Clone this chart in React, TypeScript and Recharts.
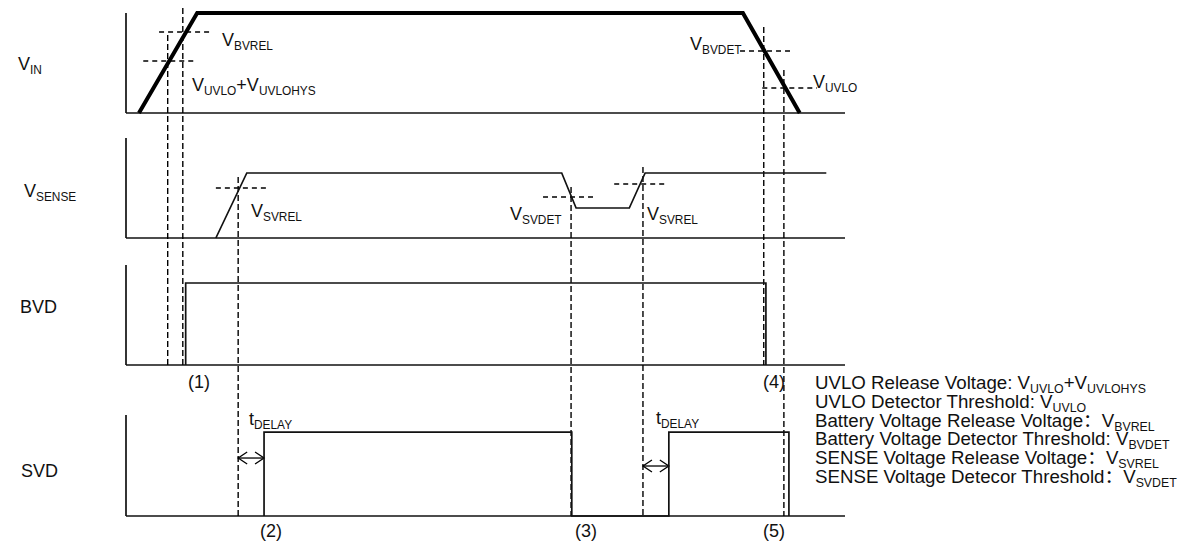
import React from 'react'
import { ComposedChart, Line, XAxis, YAxis, ReferenceLine } from 'recharts'

const W = 1182
const H = 543
const FONT = '"Liberation Sans", Arial, Helvetica, sans-serif'
const INK = '#111'

// time axis runs 0..100 (arbitrary units), levels are a fraction of each panel's full scale
const vinWave = [
  { t: 1.8, v: 0 },
  { t: 9.9, v: 1 },
  { t: 85.8, v: 1 },
  { t: 93.7, v: 0 },
]
const vsenseWave = [
  { t: 12.5, v: 0 },
  { t: 16.8, v: 0.65 },
  { t: 60.6, v: 0.65 },
  { t: 62.6, v: 0.3 },
  { t: 70.0, v: 0.3 },
  { t: 72.2, v: 0.65 },
  { t: 97.4, v: 0.65 },
]
const bvdWave = [
  { t: 8.3, v: 0 },
  { t: 8.3, v: 0.82 },
  { t: 89.0, v: 0.82 },
  { t: 89.0, v: 0 },
]
const svdWave = [
  { t: 19.2, v: 0 },
  { t: 19.2, v: 0.83 },
  { t: 62.0, v: 0.83 },
  { t: 62.0, v: 0 },
  { t: 75.5, v: 0 },
  { t: 75.5, v: 0.83 },
  { t: 92.2, v: 0.83 },
  { t: 92.2, v: 0 },
]

// threshold markers: panel, level, from t, to t
const thresholds = [
  { panel: 'vin', v: 0.81, t1: 4.6, t2: 12.1 }, // VBVREL
  { panel: 'vin', v: 0.52, t1: 2.4, t2: 9.9 }, // VUVLO+VUVLOHYS
  { panel: 'vin', v: 0.62, t1: 85.4, t2: 92.8 }, // VBVDET
  { panel: 'vin', v: 0.25, t1: 88.5, t2: 96.1 }, // VUVLO
  { panel: 'vsense', v: 0.5, t1: 12.5, t2: 19.9 }, // VSVREL
  { panel: 'vsense', v: 0.41, t1: 58.0, t2: 65.4 }, // VSVDET
  { panel: 'vsense', v: 0.54, t1: 67.9, t2: 75.4 }, // VSVREL
]

// event markers: time, where the dashed line starts, which panel it runs down to
const events = [
  { t: 5.8, panel: 'vin', v: 0.78, to: 'bvd' },
  { t: 7.9, panel: 'vin', v: 1.05, to: 'bvd' },
  { t: 15.6, panel: 'vsense', v: 0.61, to: 'svd' },
  { t: 61.9, panel: 'vsense', v: 0.51, to: 'svd' },
  { t: 71.9, panel: 'vsense', v: 0.71, to: 'svd' },
  { t: 88.7, panel: 'vin', v: 0.86, to: 'bvd' },
  { t: 91.5, panel: 'vin', v: 0.43, to: 'svd' },
]

const delays = [
  { t1: 15.6, t2: 19.2, v: 0.574 },
  { t1: 71.9, t2: 75.5, v: 0.495 },
]

const legendLines: [string, string][][] = [
  [['UVLO Release Voltage: V', 'UVLO'], ['+V', 'UVLOHYS']],
  [['UVLO Detector Threshold: V', 'UVLO']],
  [['Battery Voltage Release Voltage\uFF1AV', 'BVREL']],
  [['Battery Voltage Detector Threshold: V', 'BVDET']],
  [['SENSE Voltage Release Voltage\uFF1AV', 'SVREL']],
  [['SENSE Voltage Detecor Threshold\uFF1AV', 'SVDET']],
]

// layout: pixel band of each panel (top of the axis, baseline)
const PLOT_LEFT = 126
const PLOT_RIGHT = 845
const panels: Record<string, { top: number; base: number }> = {
  vin: { top: 13, base: 113 },
  vsense: { top: 138, base: 238 },
  bvd: { top: 265, base: 365 },
  svd: { top: 415, base: 516 },
}

function domainFor(id: string): [number, number] {
  const { top, base } = panels[id]
  const hi = base / (base - top)
  const lo = (base - H) / (base - top)
  return [lo, hi]
}

// level of another panel's baseline, expressed in this panel's units
function levelOf(id: string, px: number) {
  const { top, base } = panels[id]
  return (base - px) / (base - top)
}

function Arrow(props: any) {
  const { x1, y1, x2 } = props
  const y = y1
  return (
    <g stroke="#000" strokeWidth={1.3} fill="none">
      <line x1={x1} y1={y} x2={x2} y2={y} />
      <path d={`M${x1 + 9},${y - 6} L${x1},${y} L${x1 + 9},${y + 6}`} />
      <path d={`M${x2 - 9},${y - 6} L${x2},${y} L${x2 - 9},${y + 6}`} />
    </g>
  )
}

function Main({ text }: { text: string }) {
  if (!text.includes('\uFF1A')) return <>{text}</>
  const [a, b] = text.split('\uFF1A')
  return (
    <>
      {a}
      <tspan fontFamily='"Noto Sans CJK SC"'>{'\uFF1A'}</tspan>
      <tspan fontFamily={FONT}>{b}</tspan>
    </>
  )
}

function Label({ x, y, parts, size = 18 }: { x: number; y: number; parts: [string, string][]; size?: number }) {
  return (
    <text x={x} y={y} fontSize={size} fontFamily={FONT} fill={INK}>
      {parts.map(([main, sub], i) => (
        <React.Fragment key={i}>
          <tspan dy={i > 0 ? -4 : 0}>
            <Main text={main} />
          </tspan>
          {sub && (
            <tspan dy={4} fontSize={size * 0.66}>
              {sub}
            </tspan>
          )}
        </React.Fragment>
      ))}
    </text>
  )
}

export default function App() {
  const ids = Object.keys(panels)
  return (
    <div style={{ position: 'absolute', left: 0, top: 0, width: W, height: H, background: '#fff' }}>
      <ComposedChart
        width={W}
        height={H}
        margin={{ top: 0, right: W - PLOT_RIGHT, bottom: 0, left: PLOT_LEFT }}
      >
        <XAxis xAxisId={0} type="number" dataKey="t" domain={[0, 100]} allowDataOverflow hide />
        {ids.map((id) => (
          <YAxis key={id} yAxisId={id} type="number" dataKey="v" domain={domainFor(id)} allowDataOverflow hide />
        ))}

        {/* panel frames */}
        {ids.map((id) => (
          <ReferenceLine
            key={`base-${id}`}
            yAxisId={id}
            segment={[{ x: 0, y: 0 }, { x: 100, y: 0 }]}
            stroke={INK}
            strokeWidth={1.7}
            ifOverflow="visible"
          />
        ))}
        {ids.map((id) => (
          <ReferenceLine
            key={`axis-${id}`}
            yAxisId={id}
            segment={[{ x: 0, y: 0 }, { x: 0, y: 1 }]}
            stroke={INK}
            strokeWidth={1.7}
            ifOverflow="visible"
          />
        ))}

        {/* thresholds */}
        {thresholds.map((th, i) => (
          <ReferenceLine
            key={`th-${i}`}
            yAxisId={th.panel}
            segment={[{ x: th.t1, y: th.v }, { x: th.t2, y: th.v }]}
            stroke="#000"
            strokeWidth={1.3}
            strokeDasharray="5 4"
            ifOverflow="visible"
          />
        ))}

        {/* events */}
        {events.map((ev, i) => (
          <ReferenceLine
            key={`ev-${i}`}
            yAxisId={ev.panel}
            segment={[
              { x: ev.t, y: ev.v },
              { x: ev.t, y: levelOf(ev.panel, panels[ev.to].base) },
            ]}
            stroke="#000"
            strokeWidth={1.4}
            strokeDasharray="6 3"
            ifOverflow="visible"
          />
        ))}

        {delays.map((d, i) => (
          <ReferenceLine
            key={`dl-${i}`}
            yAxisId="svd"
            segment={[{ x: d.t1, y: d.v }, { x: d.t2, y: d.v }]}
            ifOverflow="visible"
            shape={<Arrow />}
          />
        ))}

        <Line yAxisId="vin" data={vinWave} dataKey="v" type="linear" stroke="#000" strokeWidth={4}
          strokeLinejoin="miter" dot={false} activeDot={false} isAnimationActive={false} />
        <Line yAxisId="vsense" data={vsenseWave} dataKey="v" type="linear" stroke={INK} strokeWidth={1.7}
          dot={false} activeDot={false} isAnimationActive={false} />
        <Line yAxisId="bvd" data={bvdWave} dataKey="v" type="linear" stroke={INK} strokeWidth={1.7}
          dot={false} activeDot={false} isAnimationActive={false} />
        <Line yAxisId="svd" data={svdWave} dataKey="v" type="linear" stroke={INK} strokeWidth={1.7}
          dot={false} activeDot={false} isAnimationActive={false} />
      </ComposedChart>

      <svg width={W} height={H} style={{ position: 'absolute', left: 0, top: 0, pointerEvents: 'none' }}>
        <Label x={18} y={70} parts={[['V', 'IN']]} />
        <Label x={24} y={197} parts={[['V', 'SENSE']]} />
        <Label x={20} y={313} parts={[['BVD', '']]} />
        <Label x={21} y={477} parts={[['SVD', '']]} />

        <Label x={222} y={46} parts={[['V', 'BVREL']]} />
        <Label x={192} y={91} parts={[['V', 'UVLO'], ['+V', 'UVLOHYS']]} />
        <Label x={690} y={50} parts={[['V', 'BVDET']]} />
        <Label x={813} y={88} parts={[['V', 'UVLO']]} />
        <Label x={251} y={217} parts={[['V', 'SVREL']]} />
        <Label x={510} y={220} parts={[['V', 'SVDET']]} />
        <Label x={647} y={220} parts={[['V', 'SVREL']]} />

        <Label x={249} y={425} parts={[['t', 'DELAY']]} />
        <Label x={656} y={424} parts={[['t', 'DELAY']]} />

        <Label x={188} y={388} parts={[['(1)', '']]} />
        <Label x={763} y={388} parts={[['(4)', '']]} />
        <Label x={260} y={537} parts={[['(2)', '']]} />
        <Label x={575} y={537} parts={[['(3)', '']]} />
        <Label x={763} y={537} parts={[['(5)', '']]} />

        {legendLines.map((parts, i) => (
          <Label key={i} x={815} y={389 + i * 18.8} parts={parts} size={18.7} />
        ))}
      </svg>
    </div>
  )
}
